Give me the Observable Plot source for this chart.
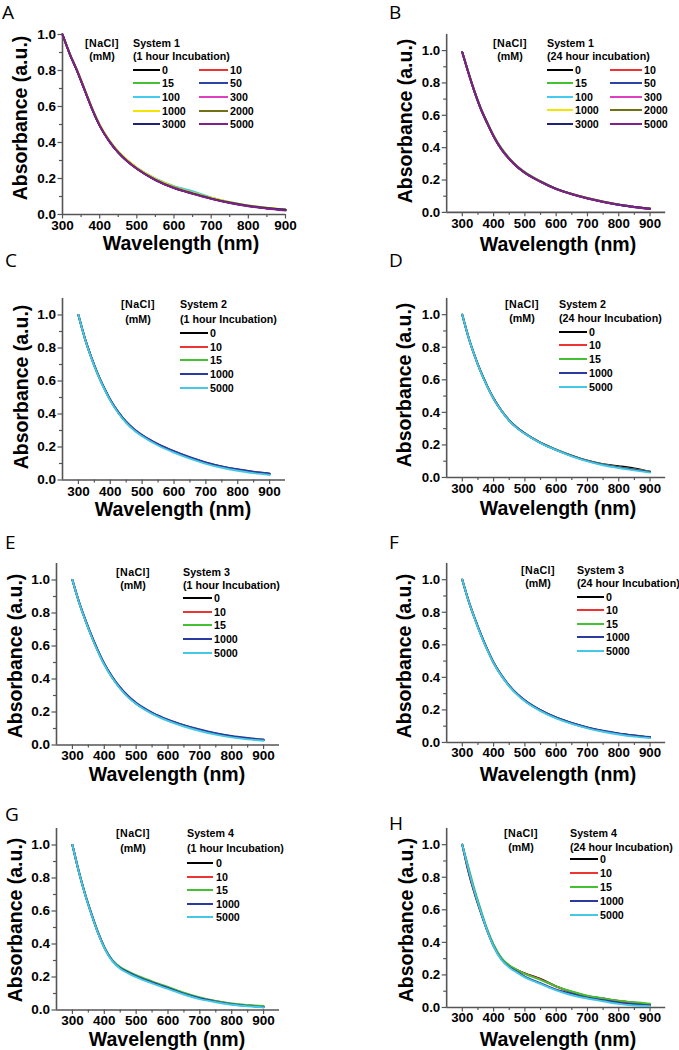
<!DOCTYPE html>
<html><head><meta charset="utf-8">
<script src="https://cdn.jsdelivr.net/npm/d3@7"></script>
<script src="https://cdn.jsdelivr.net/npm/@observablehq/plot@0.6"></script>
<style>
body{margin:0;background:#fff;}
#fig{position:relative;width:679px;height:1050px;overflow:hidden;font-family:"Liberation Sans",Arial,sans-serif;background:#fff;}
.panel{position:absolute;}
.t{position:absolute;white-space:nowrap;color:#000;line-height:1;}
.sw{position:absolute;height:2px;}
</style></head><body><div id="fig"></div>
<script>
// ---------- data ----------
const wavelengths = [300,320,340,360,380,400,425,450,475,500,550,600,650,700,750,800,850,900];
const concAll  = ["0","10","15","50","100","300","1000","2000","3000","5000"];
const concFive = ["0","10","15","1000","5000"];
const colorsAll  = ["#000000","#ee3333","#44c033","#2a44aa","#44ccee","#e040c0","#f5e400","#707015","#202075","#802088"];
const colorsFive = ["#000000","#ee3333","#44c033","#2a3aa0","#44c8e4"];
const xTicksMajor = [300,400,500,600,700,800,900];
const yTicksMajor = [0,0.2,0.4,0.6,0.8,1.0];

// System 1, 1 hour
const absA = [
 [1.0,0.890,0.795,0.690,0.585,0.495,0.410,0.345,0.295,0.255,0.193,0.149,0.118,0.089,0.066,0.048,0.035,0.026],
 [1.0,0.890,0.796,0.691,0.586,0.496,0.411,0.346,0.296,0.256,0.194,0.150,0.119,0.090,0.067,0.049,0.036,0.026],
 [1.0,0.891,0.797,0.693,0.588,0.498,0.413,0.349,0.300,0.260,0.199,0.156,0.126,0.093,0.068,0.049,0.036,0.027],
 [1.0,0.890,0.795,0.690,0.585,0.495,0.410,0.345,0.295,0.255,0.192,0.148,0.117,0.089,0.066,0.048,0.035,0.025],
 [1.0,0.891,0.797,0.693,0.588,0.498,0.413,0.349,0.300,0.260,0.200,0.158,0.129,0.094,0.068,0.050,0.037,0.027],
 [1.0,0.890,0.795,0.690,0.585,0.495,0.410,0.345,0.295,0.255,0.193,0.150,0.119,0.090,0.066,0.048,0.035,0.025],
 [1.0,0.892,0.799,0.695,0.590,0.500,0.415,0.351,0.301,0.260,0.198,0.154,0.122,0.093,0.069,0.051,0.038,0.028],
 [1.0,0.890,0.795,0.690,0.585,0.495,0.411,0.346,0.296,0.256,0.194,0.150,0.119,0.090,0.067,0.049,0.036,0.026],
 [1.0,0.889,0.794,0.689,0.584,0.494,0.409,0.344,0.294,0.254,0.191,0.147,0.116,0.088,0.065,0.047,0.035,0.027],
 [1.0,0.889,0.794,0.689,0.584,0.494,0.409,0.344,0.294,0.254,0.191,0.146,0.115,0.087,0.064,0.046,0.033,0.022]
];
// System 1, 24 hour
const absB = [
 [0.99,0.860,0.740,0.635,0.550,0.470,0.390,0.330,0.282,0.245,0.190,0.145,0.113,0.087,0.065,0.047,0.033,0.022],
 [0.99,0.861,0.741,0.636,0.551,0.471,0.391,0.331,0.283,0.246,0.191,0.146,0.114,0.088,0.066,0.048,0.034,0.023],
 [0.99,0.864,0.746,0.642,0.557,0.477,0.397,0.336,0.287,0.249,0.193,0.147,0.115,0.089,0.067,0.049,0.034,0.023],
 [0.99,0.860,0.740,0.635,0.550,0.470,0.390,0.330,0.282,0.245,0.190,0.145,0.113,0.087,0.065,0.047,0.033,0.022],
 [0.99,0.861,0.741,0.636,0.551,0.471,0.391,0.331,0.283,0.246,0.191,0.146,0.114,0.088,0.066,0.048,0.034,0.023],
 [0.99,0.862,0.743,0.639,0.554,0.474,0.394,0.334,0.285,0.247,0.191,0.146,0.114,0.088,0.066,0.048,0.034,0.023],
 [0.99,0.861,0.741,0.636,0.551,0.471,0.391,0.331,0.283,0.246,0.191,0.146,0.114,0.088,0.066,0.048,0.034,0.024],
 [0.99,0.862,0.743,0.638,0.553,0.473,0.393,0.333,0.284,0.247,0.191,0.146,0.114,0.088,0.066,0.048,0.034,0.024],
 [0.99,0.860,0.740,0.635,0.550,0.470,0.390,0.330,0.282,0.245,0.190,0.145,0.113,0.087,0.065,0.047,0.033,0.023],
 [0.99,0.859,0.739,0.634,0.549,0.469,0.389,0.329,0.281,0.244,0.189,0.144,0.112,0.086,0.064,0.046,0.032,0.021]
];
// System 2, 1 hour
const absC = [
 [1.0,0.860,0.745,0.645,0.560,0.485,0.410,0.350,0.305,0.270,0.215,0.172,0.135,0.104,0.080,0.062,0.048,0.036],
 [1.0,0.860,0.745,0.645,0.560,0.485,0.411,0.351,0.306,0.271,0.216,0.173,0.136,0.105,0.081,0.063,0.049,0.037],
 [1.0,0.860,0.745,0.645,0.560,0.485,0.410,0.350,0.305,0.270,0.215,0.172,0.135,0.104,0.080,0.062,0.048,0.036],
 [1.0,0.861,0.747,0.647,0.562,0.487,0.413,0.353,0.308,0.273,0.218,0.175,0.138,0.107,0.083,0.065,0.051,0.039],
 [1.0,0.858,0.742,0.641,0.556,0.481,0.406,0.346,0.300,0.265,0.209,0.166,0.129,0.098,0.074,0.056,0.042,0.030]
];
// System 2, 24 hour
const absD = [
 [1.0,0.860,0.745,0.645,0.560,0.485,0.410,0.350,0.305,0.270,0.213,0.170,0.133,0.103,0.082,0.070,0.056,0.036],
 [1.0,0.860,0.745,0.645,0.560,0.485,0.411,0.351,0.306,0.271,0.214,0.171,0.134,0.103,0.080,0.063,0.049,0.035],
 [1.0,0.860,0.746,0.646,0.561,0.486,0.411,0.351,0.306,0.271,0.214,0.171,0.134,0.103,0.080,0.063,0.049,0.035],
 [1.0,0.860,0.745,0.645,0.560,0.485,0.410,0.350,0.305,0.270,0.213,0.170,0.133,0.102,0.079,0.062,0.048,0.034],
 [1.0,0.859,0.743,0.643,0.558,0.483,0.408,0.348,0.303,0.268,0.211,0.168,0.130,0.099,0.075,0.058,0.044,0.030]
];
// System 3, 1 hour
const absE = [
 [1.0,0.870,0.760,0.660,0.570,0.490,0.410,0.345,0.293,0.252,0.193,0.150,0.117,0.090,0.068,0.051,0.039,0.030],
 [1.0,0.870,0.760,0.660,0.570,0.490,0.410,0.345,0.293,0.252,0.193,0.150,0.118,0.091,0.069,0.052,0.040,0.031],
 [1.0,0.870,0.760,0.660,0.570,0.490,0.410,0.345,0.293,0.252,0.193,0.150,0.117,0.090,0.068,0.051,0.039,0.030],
 [1.0,0.872,0.763,0.664,0.574,0.494,0.414,0.349,0.297,0.256,0.197,0.154,0.121,0.094,0.072,0.055,0.043,0.033],
 [1.0,0.868,0.757,0.656,0.566,0.486,0.406,0.341,0.289,0.248,0.189,0.146,0.112,0.085,0.063,0.046,0.034,0.026]
];
// System 3, 24 hour
const absF = [
 [1.0,0.870,0.760,0.660,0.570,0.490,0.412,0.348,0.297,0.257,0.197,0.152,0.118,0.091,0.070,0.054,0.042,0.032],
 [1.0,0.870,0.760,0.660,0.570,0.490,0.412,0.348,0.297,0.257,0.197,0.152,0.118,0.091,0.070,0.053,0.041,0.031],
 [1.0,0.870,0.760,0.660,0.570,0.490,0.412,0.348,0.297,0.257,0.197,0.152,0.118,0.091,0.070,0.053,0.041,0.031],
 [1.0,0.871,0.762,0.662,0.572,0.492,0.414,0.350,0.299,0.259,0.199,0.154,0.120,0.093,0.072,0.056,0.044,0.034],
 [1.0,0.869,0.758,0.657,0.567,0.487,0.409,0.345,0.294,0.253,0.193,0.148,0.114,0.087,0.066,0.049,0.036,0.027]
];
// System 4, 1 hour
const absG = [
 [1.0,0.840,0.700,0.580,0.470,0.380,0.300,0.255,0.228,0.205,0.168,0.135,0.100,0.072,0.052,0.036,0.027,0.020],
 [1.0,0.840,0.700,0.580,0.470,0.380,0.300,0.256,0.229,0.206,0.169,0.136,0.101,0.073,0.053,0.037,0.028,0.021],
 [1.0,0.842,0.703,0.583,0.473,0.383,0.304,0.260,0.234,0.211,0.174,0.140,0.105,0.076,0.055,0.039,0.030,0.024],
 [1.0,0.840,0.700,0.580,0.470,0.380,0.300,0.255,0.228,0.205,0.167,0.134,0.099,0.071,0.051,0.035,0.025,0.017],
 [1.0,0.838,0.697,0.577,0.467,0.376,0.296,0.250,0.222,0.199,0.161,0.128,0.094,0.066,0.047,0.032,0.023,0.016]
];
// System 4, 24 hour
const absH = [
 [1.0,0.830,0.695,0.578,0.470,0.380,0.300,0.255,0.230,0.210,0.175,0.130,0.095,0.070,0.055,0.040,0.030,0.018],
 [1.0,0.838,0.702,0.582,0.472,0.381,0.301,0.256,0.230,0.208,0.172,0.128,0.094,0.068,0.052,0.040,0.028,0.015],
 [1.0,0.860,0.720,0.595,0.480,0.387,0.305,0.260,0.232,0.206,0.170,0.130,0.098,0.072,0.056,0.042,0.032,0.024],
 [1.0,0.845,0.705,0.583,0.470,0.376,0.295,0.248,0.218,0.190,0.150,0.110,0.085,0.060,0.045,0.030,0.020,0.012],
 [1.0,0.848,0.708,0.584,0.470,0.375,0.293,0.245,0.214,0.185,0.145,0.105,0.075,0.055,0.038,0.022,0.012,0.008]
];

// ---------- layout ----------
const panels = [
 {letter:"A", abs:absA, conc:concAll, colors:colorsAll, sys:"System 1", inc:"(1 hour Incubation)",
  xd:[300,900], yd:[0,1.0], fx0:62, fx1:285, fyt:34, fyb:214, let:[2,12], yt:[21,118], xt:[181,244], pad:1.5,
  nacl:[102,43,56], sysX:133, rows:[70,83,97,111,124], cols:[[133,160,162],[199,228,230]]},
 {letter:"B", abs:absB, conc:concAll, colors:colorsAll, sys:"System 1", inc:"(24 hour incubation)",
  xd:[250,950], yd:[0,1.1], fx0:447, fx1:669, fyt:33.6, fyb:214, let:[389,12], yt:[406,121], xt:[558,245], pad:1.5,
  nacl:[510,43,56], sysX:547, rows:[70,83,97,110,124], cols:[[547,573,575],[610,642,644]]},
 {letter:"C", abs:absC, conc:concFive, colors:colorsFive, sys:"System 2", inc:"(1 hour Incubation)",
  xd:[250,950], yd:[0,1.1], fx0:62, fx1:285, fyt:297.5, fyb:479, let:[5,260], yt:[22,387], xt:[173,510], pad:1.5,
  nacl:[138,304,319], sysX:180, rows:[333,347,360,374,388], cols:[[180,208,210]]},
 {letter:"D", abs:absD, conc:concFive, colors:colorsFive, sys:"System 2", inc:"(24 hour Incubation)",
  xd:[250,950], yd:[0,1.1], fx0:447, fx1:669, fyt:297.5, fyb:479, let:[389,260], yt:[405,385], xt:[558,509], pad:1.5,
  nacl:[522,304,318], sysX:559, rows:[332,345,359,373,387], cols:[[559,587,589]]},
 {letter:"E", abs:absE, conc:concFive, colors:colorsFive, sys:"System 3", inc:"(1 hour Incubation)",
  xd:[250,950], yd:[0,1.1], fx0:56, fx1:279, fyt:562.5, fyb:744, let:[5,542], yt:[16,656], xt:[167,775], pad:0.5,
  nacl:[133,572,585], sysX:183, rows:[598,612,625,639,653], cols:[[183,212,214]]},
 {letter:"F", abs:absF, conc:concFive, colors:colorsFive, sys:"System 3", inc:"(24 hour Incubation)",
  xd:[250,950], yd:[0,1.1], fx0:447, fx1:669, fyt:562.5, fyb:744, let:[389,542], yt:[405,656], xt:[558,775], pad:0.5,
  nacl:[538,570,583], sysX:577, rows:[597,610,624,637,651], cols:[[577,604,606]]},
 {letter:"G", abs:absG, conc:concFive, colors:colorsFive, sys:"System 4", inc:"(1 hour Incubation)",
  xd:[250,950], yd:[0,1.1], fx0:56, fx1:279, fyt:827.5, fyb:1009, let:[5,814], yt:[16,920], xt:[167,1039.5], pad:0.5,
  nacl:[133,833,848], sysX:187, rows:[863,877,890,904,917], cols:[[187,213,216]]},
 {letter:"H", abs:absH, conc:concFive, colors:colorsFive, sys:"System 4", inc:"(24 hour Incubation)",
  xd:[250,950], yd:[0,1.1], fx0:447, fx1:669, fyt:827.5, fyb:1009, let:[389,823], yt:[407,920], xt:[558,1039.5], pad:0.5,
  nacl:[521,833,847], sysX:570, rows:[859,873,887,901,915], cols:[[570,598,600]]}
];

const fig = document.getElementById("fig");
function addText(txt, x, y, css, transform) {
  const d = document.createElement("div");
  d.className = "t";
  d.textContent = txt;
  d.style.cssText += `left:${x}px;top:${y}px;transform:${transform};` + css;
  fig.appendChild(d);
  return d;
}
const fam = '"Liberation Sans",Arial,sans-serif';
const blank = () => "";

for (const p of panels) {
  const mL = 62, mR = 14, mT = 6, mB = 30;
  const fw = p.fx1 - p.fx0, fh = p.fyb - p.fyt;
  const rows = [];
  p.abs.forEach((vals, i) => vals.forEach((v, j) => rows.push({w: wavelengths[j], a: v, c: p.conc[i]})));
  const xMinor = d3.range(350, 900, 100);
  const yMinor = d3.range(0.1, p.yd[1] - 0.05, 0.2).map(v => +v.toFixed(2));
  const chart = Plot.plot({
    width: fw + mL + mR, height: fh + mT + mB,
    marginLeft: mL, marginRight: mR, marginTop: mT, marginBottom: mB,
    x: {domain: p.xd},
    y: {domain: p.yd},
    color: {domain: p.conc, range: p.colors},
    style: {fontFamily: fam, background: "transparent", overflow: "visible", color: "#000"},
    marks: [
      Plot.axisX(xMinor, {tickSize: 3, stroke: "#555", strokeWidth: 1.2, tickFormat: blank, label: null}),
      Plot.axisX(xTicksMajor, {tickSize: 4.5, tickPadding: p.pad, stroke: "#555", strokeWidth: 1.2, tickFormat: d3.format("d"), fontSize: 13.5, fontWeight: "bold", label: null}),
      Plot.axisY(yMinor, {tickSize: 3, stroke: "#555", strokeWidth: 1.2, tickFormat: blank, label: null}),
      Plot.axisY(yTicksMajor, {tickSize: 4.5, tickPadding: 2, stroke: "#555", strokeWidth: 1.2, tickFormat: d3.format(".1f"), fontSize: 13.5, fontWeight: "bold", label: null}),
      Plot.ruleX([p.xd[0]], {stroke: "#555", strokeWidth: 1.6}),
      Plot.ruleY([0], {stroke: "#555", strokeWidth: 1.6}),
      Plot.line(rows, {x: "w", y: "a", z: "c", stroke: "c", strokeWidth: 1.9, curve: "monotone-x"})
    ]
  });
  const holder = document.createElement("div");
  holder.className = "panel";
  holder.style.left = (p.fx0 - mL) + "px";
  holder.style.top = (p.fyt - mT) + "px";
  holder.appendChild(chart);
  fig.appendChild(holder);

  // panel letter
  addText(p.letter, p.let[0], p.let[1], `font-family:"Open Sans","Noto Sans",sans-serif;font-size:19px;`, "translate(0,-50%)");
  // axis titles
  addText("Absorbance (a.u.)", p.yt[0], p.yt[1], `font-family:${fam};font-weight:bold;font-size:19.5px;`, "translate(-50%,-50%) rotate(-90deg)");
  addText("Wavelength (nm)", p.xt[0], p.xt[1], `font-family:${fam};font-weight:bold;font-size:19.5px;`, "translate(-50%,-50%)");
  // legend
  const lf = `font-family:${fam};font-weight:bold;font-size:10.7px;`;
  addText("[NaCl]", p.nacl[0], p.nacl[1], lf + "letter-spacing:0.4px;", "translate(-50%,-50%)");
  addText("(mM)", p.nacl[0], p.nacl[2], lf, "translate(-50%,-50%)");
  addText(p.sys, p.sysX, p.nacl[1], lf, "translate(0,-50%)");
  addText(p.inc, p.sysX, p.nacl[2], lf, "translate(0,-50%)");
  p.conc.forEach((c, i) => {
    const col = p.cols.length === 2 ? i % 2 : 0;
    const row = p.cols.length === 2 ? Math.floor(i / 2) : i;
    const [x0, x1, xl] = p.cols[col];
    const y = p.rows[row];
    const sw = document.createElement("div");
    sw.className = "sw";
    sw.style.left = x0 + "px";
    sw.style.width = (x1 - x0) + "px";
    sw.style.top = (y - 1) + "px";
    sw.style.background = p.colors[i];
    fig.appendChild(sw);
    addText(c, xl, y, lf, "translate(0,-50%)");
  });
}
</script></body></html>
